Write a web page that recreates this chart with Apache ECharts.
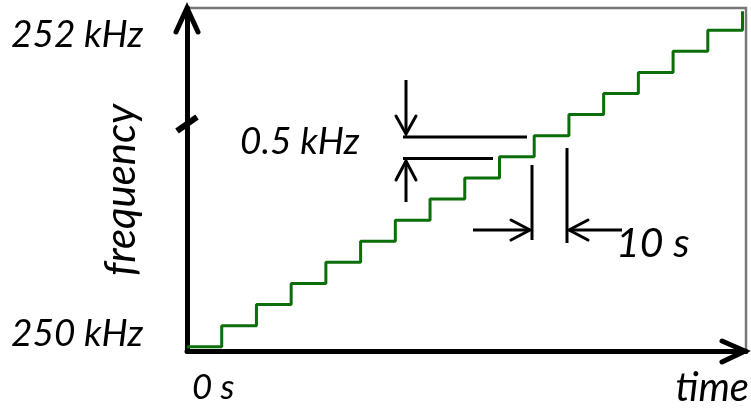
<!DOCTYPE html>
<html>
<head>
<meta charset="utf-8">
<script src="https://cdn.jsdelivr.net/npm/echarts@6/dist/echarts.min.js"></script>
<style>
    html, body { margin: 0; padding: 0; background: #fff; }
    #main { width: 751px; height: 410px; }
</style>
</head>
<body>
<div id="main"></div>
<script>
// time of each step (s) and the frequency step reached (one step = 0.5 kHz)
var timeSec = [0, 10, 20, 30, 40, 50, 60, 70, 80, 90, 100, 110, 120, 130, 140, 150, 160];
var freqStep = [0, 1, 2, 3, 4, 5, 6, 7, 8, 9, 10, 11, 12, 13, 14, 15, 15.9];
var yTickLabels = ['250 kHz', '252 kHz'];
var xTickLabels = ['0 s'];
var stepLabel = '0.5 kHz';
var periodLabel = '10 s';

var FONT = 'Lato, "Open Sans", sans-serif';

function txt(text, x, y, size, align, rot) {
    return {
        type: 'text', x: x, y: y, rotation: rot || 0, z: 10,
        style: {
            text: text, fill: '#000',
            font: 'italic ' + size + 'px ' + FONT,
            align: align || 'left', verticalAlign: 'middle'
        }
    };
}
function line(points, w, cap) {
    return {
        type: 'polyline', z: 10,
        shape: { points: points },
        style: { stroke: '#000', lineWidth: w || 3, fill: null, lineCap: cap || 'butt', lineJoin: 'miter' }
    };
}

var chart = echarts.init(document.getElementById('main'));
chart.setOption({
    animation: false,
    grid: {
        left: 187, right: 5, top: 8, bottom: 59,
        show: true, borderColor: '#777', borderWidth: 2.5, backgroundColor: '#fff'
    },
    xAxis: {
        type: 'value', min: 0, max: 161,
        axisLine: { show: true, onZero: false, lineStyle: { color: '#000', width: 5 } },
        axisTick: { show: false }, axisLabel: { show: false }, splitLine: { show: false }
    },
    yAxis: {
        type: 'value', min: -0.2, max: 16.05,
        axisLine: { show: true, onZero: false, lineStyle: { color: '#000', width: 5 } },
        axisTick: { show: false }, axisLabel: { show: false }, splitLine: { show: false }
    },
    series: [{
        type: 'line',
        step: 'end',
        data: timeSec.map(function (t, i) { return [t, freqStep[i]]; }),
        showSymbol: false,
        lineStyle: { color: '#0b6e0b', width: 3 },
        clip: true
    }],
    graphic: [
        // axis arrow heads and axis break
        line([[176, 32], [187, 8], [198, 32]], 5, 'round'),
        line([[722, 341], [745, 351], [722, 362]], 5, 'round'),
        line([[177, 131], [197, 117]], 6),
        // 0.5 kHz dimension
        line([[403, 137], [527, 137]], 3),
        line([[403, 158.5], [493, 158.5]], 3),
        line([[406, 80], [406, 134]], 3),
        line([[396, 116], [406, 134], [416, 116]], 3, 'round'),
        line([[406, 202], [406, 161]], 3),
        line([[396, 180], [406, 161], [416, 180]], 3, 'round'),
        // 10 s dimension
        line([[532, 165], [532, 240]], 3),
        line([[567, 148], [567, 243]], 3),
        line([[473, 230], [530, 230]], 3),
        line([[511, 220], [530, 230], [511, 240]], 3, 'round'),
        line([[569, 230], [622, 230]], 3),
        line([[588, 220], [569, 230], [588, 240]], 3, 'round'),
        // texts
        txt(yTickLabels[1], 11, 35, 37),
        txt(yTickLabels[0], 11, 334, 37),
        txt('frequency', 121, 190, 42, 'center', Math.PI / 2),
        txt(xTickLabels[0], 192, 388, 35),
        txt('time', 749, 388, 40, 'right'),
        txt(stepLabel, 240, 142, 37),
        txt(periodLabel, 616, 244, 41)
    ]
});
</script>
</body>
</html>
